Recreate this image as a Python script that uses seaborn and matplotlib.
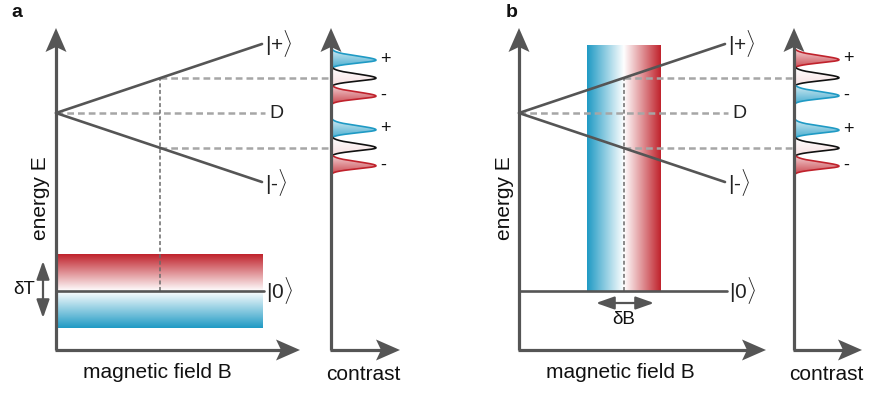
import numpy as np
import matplotlib
matplotlib.use("Agg")
import matplotlib.pyplot as plt
import seaborn as sns
from matplotlib.colors import LinearSegmentedColormap, to_rgb
from matplotlib.patches import Polygon, FancyArrowPatch

sns.set_style("white")
plt.rcParams["font.family"] = ["Liberation Sans", "DejaVu Sans"]
plt.rcParams["mathtext.fontset"] = "custom"
plt.rcParams["mathtext.rm"] = "Liberation Sans"
plt.rcParams["mathtext.it"] = "Liberation Sans"

# ---- schematic values (energy measured upward, field to the right) ----
panels = ["a", "b"]
level_length = 206          # field range over which |+>, |-> are drawn
zero_field_level = 281      # energy of the D splitting point
zeeman_slope = 0.335        # dE/dB of the |+>, |-> branches
ground_level = 103          # energy of |0>
probe_field = [104, 105]    # field at which the dashed readout is taken
peak_spacing = 18           # offset of the +/- satellite lines in the spectrum
peak_height = 45            # contrast amplitude of each line
peak_colors = [["blue", "white", "red", "blue", "white", "red"],
               ["red", "white", "blue", "blue", "white", "red"]]
peak_signs = ["+", "", "-", "+", "", "-"]
ket_labels = [r"|+$\rangle$", r"|-$\rangle$", r"|0$\rangle$"]
axis_labels = ["energy E", "magnetic field B", "contrast"]
delta_labels = ["δT", "δB"]

# ---- layout ----
W, H = 869, 394
origin_x = [56, 519]
contrast_x = [331, 794]
field_tip = [300, 766]
contrast_tip = [400, 862]
axis_bottom = 44
axis_top = 366

dark = "#555555"
dash_col = "#a6a6a6"
blue = "#1f9ac4"
red = "#c0222c"
cmap = LinearSegmentedColormap.from_list("temp", [blue, "#ffffff", red])

fig = plt.figure(figsize=(W / 100, H / 100), dpi=100)
ax = fig.add_axes([0, 0, 1, 1])


def mix(c, frac):
    c = np.array(to_rgb(c))
    return c * (1 - frac) + np.ones(3) * frac


def head(x, y, direction, length=24, half=10.5, notch=5):
    if direction == "up":
        pts = [(x, y), (x - half, y - length), (x, y - length + notch), (x + half, y - length)]
    else:
        pts = [(x, y), (x - length, y + half), (x - length + notch, y), (x - length, y - half)]
    ax.add_patch(Polygon(pts, closed=True, color=dark, lw=0, zorder=6))


def axes_pair(x0, xtip, cx, ctip):
    for xa, xt in [(x0, xtip), (cx, ctip)]:
        ax.plot([xa, xa], [axis_bottom, axis_top - 18], color=dark, lw=2.3,
                solid_capstyle="butt", zorder=5)
        ax.plot([xa - 1.1, xt - 18], [axis_bottom, axis_bottom], color=dark, lw=2.3,
                solid_capstyle="butt", zorder=5)
        head(xa, axis_top, "up")
        head(xt, axis_bottom, "right")


color_map = {"blue": blue, "red": red}

for p, name in enumerate(panels):
    x0 = origin_x[p]
    cx = contrast_x[p]
    bprobe = probe_field[p]
    e_plus = zero_field_level + zeeman_slope * bprobe
    e_minus = zero_field_level - zeeman_slope * bprobe

    # thermal / field spread
    if p == 0:
        grad = np.linspace(-1, 1, 256)[:, None]
        ax.imshow(grad, extent=[x0, x0 + 207, 66, 140], origin="lower", cmap=cmap,
                  vmin=-1, vmax=1, aspect="auto", zorder=1, interpolation="bilinear")
    else:
        grad = np.linspace(-1, 1, 256)[None, :]
        ax.imshow(grad, extent=[587, 661, ground_level, 349], origin="lower", cmap=cmap,
                  vmin=-1, vmax=1, aspect="auto", zorder=1, interpolation="bilinear")

    # dashed readout lines
    px = x0 + bprobe
    ax.plot([x0, x0 + level_length + 3], [zero_field_level] * 2, color=dash_col, lw=1.8,
            dashes=(2.7, 1.6), zorder=2)
    for e in (e_plus, e_minus):
        ax.plot([px, cx], [e, e], color=dash_col, lw=1.8, dashes=(2.7, 1.6), zorder=2)
    ax.plot([px, px], [ground_level, e_plus], color="#6a6a6a", lw=1.1,
            dashes=(2.6, 1.7), zorder=2)

    # energy levels
    sns.lineplot(x=[x0, x0 + level_length],
                 y=[zero_field_level, zero_field_level + zeeman_slope * level_length],
                 ax=ax, color=dark, lw=1.9, sort=False, zorder=4)
    sns.lineplot(x=[x0, x0 + level_length],
                 y=[zero_field_level, zero_field_level - zeeman_slope * level_length],
                 ax=ax, color=dark, lw=1.9, sort=False, zorder=4)
    sns.lineplot(x=[x0, x0 + 208], y=[ground_level, ground_level],
                 ax=ax, color=dark, lw=1.9, sort=False, zorder=4)

    ax.text(x0 + 209, zero_field_level + zeeman_slope * level_length, ket_labels[0],
            fontsize=15, va="center", ha="left", color="#222222")
    ax.text(x0 + 209, zero_field_level - zeeman_slope * level_length, ket_labels[1],
            fontsize=15, va="center", ha="left", color="#222222")
    ax.text(x0 + 210, ground_level, ket_labels[2], fontsize=15, va="center", ha="left",
            color="#222222")
    ax.text(x0 + 220, zero_field_level, "D", fontsize=14, va="center", ha="center",
            color="#222222")

    # spectrum lines
    centers = [e_plus + peak_spacing, e_plus, e_plus - peak_spacing,
               e_minus + peak_spacing, e_minus, e_minus - peak_spacing]
    for c, col, sign in zip(centers, peak_colors[p], peak_signs):
        yy = np.linspace(c - 9, c + 11, 240)
        sig = np.where(yy > c, 4.0, 2.9)
        xx = cx + peak_height * np.exp(-0.5 * ((yy - c) / sig) ** 2)
        poly = Polygon(np.column_stack([np.r_[cx, xx, cx], np.r_[yy[0], yy, yy[-1]]]),
                       closed=True, facecolor="none", edgecolor="none")
        ax.add_patch(poly)
        if col == "white":
            top, bot, edge = np.ones(3), mix(red, 0.85), "#111111"
        else:
            base = color_map[col]
            top, bot, edge = mix(base, 0.8), mix(base, 0.15), base
        t = np.linspace(0, 1, 64)[:, None, None]
        img = bot[None, None, :] * (1 - t) + top[None, None, :] * t
        im = ax.imshow(img, extent=[cx, cx + peak_height, c - 9, c + 11], origin="lower",
                       aspect="auto", zorder=3, interpolation="bilinear")
        im.set_clip_path(poly)
        ax.plot(xx, yy, color=edge, lw=1.2, zorder=4)
        if sign:
            ax.text(cx + peak_height + 4, c + 1, sign, fontsize=13, va="center", ha="left",
                    color="#111111")

    axes_pair(x0, field_tip[p], cx, contrast_tip[p])

    # labels
    ax.text([17, 512][p], 382, name, fontsize=14, fontweight="bold", ha="center",
            va="center", color="#111111")
    ax.text([40, 505][p], 196, axis_labels[0], fontsize=15, rotation=90, ha="center",
            va="center", color="#111111")
    ax.text([157, 620][p], 22, axis_labels[1], fontsize=15, ha="center", va="center",
            color="#111111")
    ax.text([363, 826][p], 20, axis_labels[2], fontsize=15, ha="center", va="center",
            color="#111111")

# spread arrows
arrow_style = "<|-|>,head_length=0.85,head_width=0.3"
ax.add_patch(FancyArrowPatch((43, 133), (43, 76), arrowstyle=arrow_style,
                             mutation_scale=13, color=dark, lw=1.6, zorder=6,
                             shrinkA=0, shrinkB=0))
ax.text(35, 105, delta_labels[0], fontsize=13.5, ha="right", va="center", color="#111111")
ax.add_patch(FancyArrowPatch((596, 91), (654, 91), arrowstyle=arrow_style,
                             mutation_scale=13, color=dark, lw=1.6, zorder=6,
                             shrinkA=0, shrinkB=0))
ax.text(624, 75, delta_labels[1], fontsize=13.5, ha="center", va="center", color="#111111")

ax.set_xlim(0, W)
ax.set_ylim(0, H)
ax.axis("off")
fig.savefig("out.png", dpi=100)
